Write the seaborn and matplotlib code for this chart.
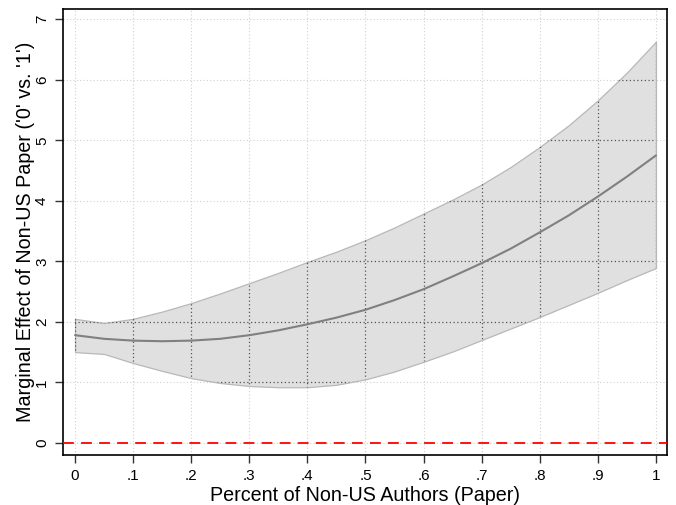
import numpy as np
import pandas as pd
import matplotlib
matplotlib.use("Agg")
import matplotlib.pyplot as plt
import seaborn as sns

# share of non-US authors on the paper
share = [0, .05, .1, .15, .2, .25, .3, .35, .4, .45, .5,
         .55, .6, .65, .7, .75, .8, .85, .9, .95, 1]
# marginal effect and 95% CI
effect = [1.78, 1.72, 1.69, 1.68, 1.69, 1.72, 1.78, 1.86, 1.96, 2.07, 2.20,
          2.36, 2.54, 2.75, 2.97, 3.21, 3.48, 3.76, 4.07, 4.40, 4.75]
ci_upper = [2.05, 1.98, 2.05, 2.17, 2.31, 2.47, 2.64, 2.81, 2.99, 3.16, 3.35,
            3.56, 3.79, 4.02, 4.27, 4.56, 4.89, 5.25, 5.66, 6.12, 6.63]
ci_lower = [1.50, 1.47, 1.32, 1.19, 1.07, 0.99, 0.94, 0.92, 0.92, 0.96, 1.05,
            1.18, 1.34, 1.51, 1.70, 1.89, 2.08, 2.28, 2.48, 2.69, 2.89]

xticks = [0, .1, .2, .3, .4, .5, .6, .7, .8, .9, 1]
xticklabels = ["0", ".1", ".2", ".3", ".4", ".5", ".6", ".7", ".8", ".9", "1"]
yticks = [0, 1, 2, 3, 4, 5, 6, 7]

df = pd.DataFrame({"share": share, "effect": effect,
                   "lo": ci_lower, "hi": ci_upper})

sns.set_style("white")
plt.rcParams["font.family"] = ["Liberation Sans", "DejaVu Sans"]
plt.rcParams["text.color"] = "black"
plt.rcParams["axes.labelcolor"] = "black"
plt.rcParams["xtick.color"] = "black"
plt.rcParams["ytick.color"] = "black"

fig = plt.figure(figsize=(6.76, 5.05), dpi=100)
ax = fig.add_axes([63 / 676, 1 - 455 / 505, (667 - 63) / 676, (455 - 9) / 505])

band = ax.fill_between(df["share"], df["lo"], df["hi"], facecolor="#e0e0e0",
                       edgecolor="#b8b8b8", linewidth=0.9, zorder=1)

# light grid everywhere, darker where it crosses the band
for xt in xticks:
    ax.axvline(xt, color="#d0d0d0", linestyle=(0, (1, 2)), linewidth=0.8, zorder=0.5)
    g = ax.axvline(xt, color="#555555", linestyle=(0, (1, 2)), linewidth=0.9, zorder=1.5)
    g.set_clip_path(band.get_paths()[0], ax.transData)
for yt in yticks:
    ax.axhline(yt, color="#d0d0d0", linestyle=(0, (1, 2)), linewidth=0.8, zorder=0.5)
    g = ax.axhline(yt, color="#555555", linestyle=(0, (1, 2)), linewidth=0.9, zorder=1.5)
    g.set_clip_path(band.get_paths()[0], ax.transData)

sns.lineplot(data=df, x="share", y="effect", color="#808080", linewidth=1.5,
             ax=ax, zorder=2)
ax.axhline(0, color="red", linestyle=(0, (6, 4)), linewidth=1.3, zorder=3)

ax.set_xlim(-0.0207, 1.019)
ax.set_ylim(-0.2, 7.17)
ax.set_xticks(xticks)
ax.set_xticklabels(xticklabels)
ax.set_yticks(yticks)
ax.set_yticklabels([str(v) for v in yticks], rotation=90, va="center")
ax.tick_params(axis="both", direction="out", length=6, width=1, color="#333333",
               labelsize=11, labelcolor="black", bottom=True, left=True)
ax.tick_params(axis="x", pad=4)
ax.tick_params(axis="y", pad=4)
for s in ax.spines.values():
    s.set_color("black")
    s.set_linewidth(1.2)

ax.set_xlabel("Percent of Non-US Authors (Paper)", fontsize=14.2, labelpad=2)
ax.set_ylabel("Marginal Effect of Non-US Paper ('0' vs. '1')", fontsize=14.2, labelpad=0)

fig.savefig("out.png", dpi=100)
